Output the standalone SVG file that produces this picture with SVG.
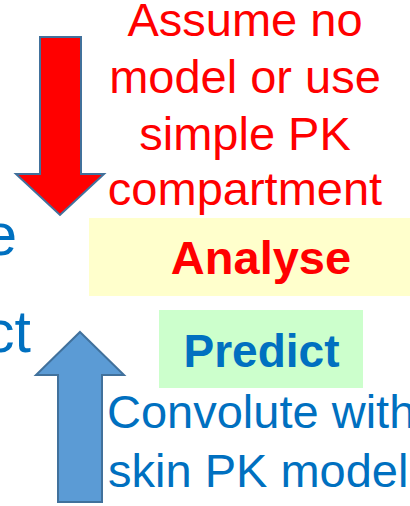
<svg xmlns="http://www.w3.org/2000/svg" width="410" height="506" viewBox="0 0 410 506">
<style>
  .arial { font-family: "Liberation Sans", Arial, sans-serif; }
  .red { fill: #FF0000; }
  .blue { fill: #0070C0; }
  .big { font-size: 47px; }
  .bold { font-weight: bold; }
  .arrow { stroke: #41719C; stroke-width: 2; stroke-linejoin: miter; }
</style>
<rect x="0" y="0" width="410" height="506" fill="#FFFFFF"/>
<g id="left-text" class="arial blue" font-size="59">
  <text x="17" y="255" text-anchor="end">e</text>
  <text x="31" y="352" text-anchor="end">ct</text>
</g>
<g id="connectors">
  <polygon class="arrow" fill="#FF0000" points="40,37 81,37 81,174 104,174 60,215 16,174 40,174"/>
  <polygon class="arrow" fill="#5B9BD5" points="80,332 124,375 102,375 102,502 58,502 58,375 36,375"/>
</g>
<g id="assume-label" class="arial red big" text-anchor="middle">
  <text x="245" y="36">Assume no</text>
  <text x="245" y="93">model or use</text>
  <text x="245" y="150">simple PK</text>
  <text x="245" y="205">compartment</text>
</g>
<g id="analyse">
  <rect x="89" y="218" width="321" height="78" fill="#FFFFCC"/>
  <text class="arial red big bold" x="261" y="274" text-anchor="middle">Analyse</text>
</g>
<g id="predict">
  <rect x="159" y="310" width="204" height="78" fill="#CCFFCC"/>
  <text class="arial blue bold" font-size="46" x="261.5" y="367" text-anchor="middle">Predict</text>
</g>
<g id="convolute-label" class="arial blue big">
  <text x="107" y="428">Convolute with</text>
  <text x="108" y="487">skin PK model</text>
</g>
</svg>
